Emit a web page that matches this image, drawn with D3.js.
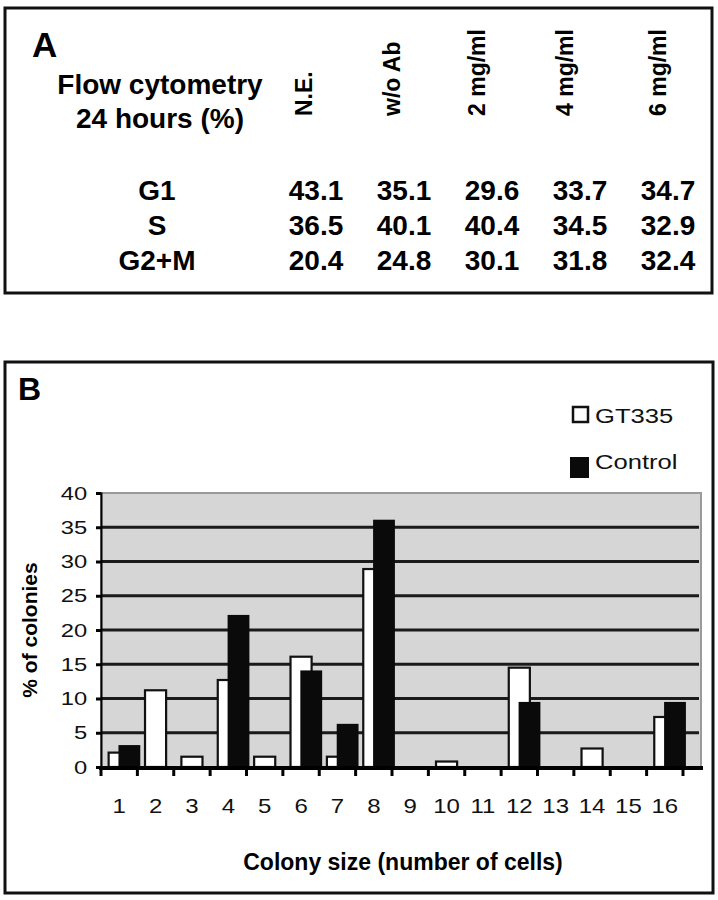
<!DOCTYPE html>
<html>
<head>
<meta charset="utf-8">
<script src="https://cdn.jsdelivr.net/npm/d3@7"></script>
<style>
    body { margin: 0; background: #fff; }
    svg { display: block; font-family: "Liberation Sans", Arial, sans-serif; }
</style>
</head>
<body>
<div id="chart"></div>
<script>
// panel A: flow cytometry table
const conditions = ['N.E.', 'w/o Ab', '2 mg/ml', '4 mg/ml', '6 mg/ml'];
const phases = ['G1', 'S', 'G2+M'];
const g1 = [43.1, 35.1, 29.6, 33.7, 34.7];
const sPhase = [36.5, 40.1, 40.4, 34.5, 32.9];
const g2m = [20.4, 24.8, 30.1, 31.8, 32.4];

// panel B: colony size distribution
const sizes = ['1', '2', '3', '4', '5', '6', '7', '8', '9', '10', '11', '12', '13', '14', '15', '16'];
const gt335 = [2.1, 11.2, 1.5, 12.7, 1.5, 16.1, 1.5, 28.9, 0, 0.8, 0, 14.5, 0, 2.7, 0, 7.3];
const control = [3.2, 0, 0, 22.2, 0, 14.1, 6.3, 36.1, 0, 0, 0, 9.5, 0, 0, 0, 9.5];
const yTicks = [0, 5, 10, 15, 20, 25, 30, 35, 40];

const width = 718, height = 900;
const svg = d3.select('#chart').append('svg')
    .attr('width', width)
    .attr('height', height);

function drawTable() {
    const g = svg.append('g');
    g.append('rect')
        .attr('x', 5).attr('y', 8)
        .attr('width', 707).attr('height', 285)
        .attr('fill', 'none')
        .attr('stroke', '#111')
        .attr('stroke-width', 3);

    g.append('text')
        .attr('x', 32).attr('y', 57)
        .attr('font-size', 35).attr('font-weight', 'bold')
        .text('A');

    g.selectAll('.title')
        .data(['Flow cytometry', '24 hours (%)'])
        .enter().append('text')
        .attr('x', 160)
        .attr('y', (d, i) => 94 + i * 34)
        .attr('text-anchor', 'middle')
        .attr('font-size', 28).attr('font-weight', 'bold')
        .text(d => d);

    const col = d3.scalePoint().domain(conditions).range([316, 668]);
    const row = d3.scalePoint().domain(phases).range([200, 270]);
    const headerShift = [-2, -2, -5, -5, 0];

    g.selectAll('.head')
        .data(conditions)
        .enter().append('text')
        .attr('transform', (d, i) => `translate(${col(d) + headerShift[i] - 2},116) rotate(-90)`)
        .attr('font-size', 23).attr('font-weight', 'bold')
        .text(d => d);

    g.selectAll('.phase')
        .data(phases)
        .enter().append('text')
        .attr('x', 157)
        .attr('y', d => row(d))
        .attr('text-anchor', 'middle')
        .attr('font-size', 28).attr('font-weight', 'bold')
        .text(d => d);

    const rows = [g1, sPhase, g2m];
    rows.forEach((vals, r) => {
        g.selectAll('.v' + r)
            .data(vals)
            .enter().append('text')
            .attr('x', (d, i) => col(conditions[i]))
            .attr('y', row(phases[r]))
            .attr('text-anchor', 'middle')
            .attr('font-size', 28).attr('font-weight', 'bold')
            .text(d => d.toFixed(1));
    });
}

function drawBars() {
    const g = svg.append('g');
    g.append('rect')
        .attr('x', 5).attr('y', 362)
        .attr('width', 708).attr('height', 531)
        .attr('fill', 'none')
        .attr('stroke', '#111')
        .attr('stroke-width', 3);

    g.append('text')
        .attr('x', 18).attr('y', 400)
        .attr('font-size', 32).attr('font-weight', 'bold')
        .text('B');

    const x = d3.scaleBand().domain(sizes).range([101, 683]);
    const y = d3.scaleLinear().domain([0, 40]).range([767, 493]);
    const bw = x.bandwidth();
    const plotRight = 701;

    // plot background
    g.append('rect')
        .attr('x', x.range()[0]).attr('y', y(40))
        .attr('width', plotRight - x.range()[0])
        .attr('height', y(0) - y(40))
        .attr('fill', '#d6d6d6')
        .attr('stroke', '#9a9a9a')
        .attr('stroke-width', 2);

    // gridlines
    g.selectAll('.grid')
        .data(yTicks.filter(t => t > 0 && t < 40))
        .enter().append('line')
        .attr('x1', x.range()[0]).attr('x2', plotRight - 2)
        .attr('y1', d => y(d)).attr('y2', d => y(d))
        .attr('stroke', '#1a1a1a')
        .attr('stroke-width', 3);

    // y axis
    const yAxis = g.append('g')
        .attr('transform', `translate(${x.range()[0]},0)`)
        .call(d3.axisLeft(y).tickValues(yTicks).tickSize(5).tickPadding(6));
    yAxis.select('.domain').attr('stroke', '#000').attr('stroke-width', 2);
    yAxis.selectAll('.tick line').attr('stroke', '#000').attr('stroke-width', 3);
    yAxis.selectAll('.tick text')
        .attr('font-size', 19)
        .attr('font-family', '"Liberation Sans", Arial, sans-serif')
        .attr('fill', '#111')
        .attr('transform', 'scale(1.25,1)');

    // bars: white GT335 behind, black control overlapping on top
    g.selectAll('.gt')
        .data(gt335.map((v, i) => ({size: sizes[i], v})).filter(d => d.v > 0))
        .enter().append('rect')
        .attr('x', d => x(d.size) + bw * 0.21)
        .attr('y', d => y(d.v))
        .attr('width', bw * 0.58)
        .attr('height', d => y(0) - y(d.v))
        .attr('fill', '#fff')
        .attr('stroke', '#111')
        .attr('stroke-width', 2.2);

    g.selectAll('.ctrl')
        .data(control.map((v, i) => ({size: sizes[i], v})).filter(d => d.v > 0))
        .enter().append('rect')
        .attr('x', d => x(d.size) + bw * 0.48)
        .attr('y', d => y(d.v))
        .attr('width', bw * 0.6)
        .attr('height', d => y(0) - y(d.v))
        .attr('fill', '#0a0a0a');

    // x axis line and boundary ticks
    g.append('line')
        .attr('x1', x.range()[0] - 2).attr('x2', plotRight + 2)
        .attr('y1', y(0) + 1).attr('y2', y(0) + 1)
        .attr('stroke', '#000')
        .attr('stroke-width', 4);

    const bounds = sizes.map(s => x(s)).concat([x.range()[1]]);
    g.selectAll('.xtick')
        .data(bounds)
        .enter().append('line')
        .attr('x1', d => d).attr('x2', d => d)
        .attr('y1', y(0)).attr('y2', y(0) + 9)
        .attr('stroke', '#000')
        .attr('stroke-width', 3);

    const xAxis = g.append('g')
        .attr('transform', `translate(0,${y(0)})`)
        .call(d3.axisBottom(x).tickSize(0));
    xAxis.select('.domain').remove();
    xAxis.selectAll('.tick text')
        .attr('y', 46).attr('dy', null)
        .attr('font-size', 20)
        .attr('font-family', '"Liberation Sans", Arial, sans-serif')
        .attr('fill', '#111')
        .attr('transform', 'scale(1.2,1)');

    // axis titles
    g.append('text')
        .attr('transform', `translate(37,${(y(0) + y(40)) / 2}) rotate(-90)`)
        .attr('text-anchor', 'middle')
        .attr('font-size', 21).attr('font-weight', 'bold')
        .text('% of colonies');

    g.append('text')
        .attr('x', 403).attr('y', 870)
        .attr('text-anchor', 'middle')
        .attr('font-size', 23).attr('font-weight', 'bold')
        .text('Colony size (number of cells)');

    // legend
    const legend = g.append('g');
    legend.append('rect')
        .attr('x', 573).attr('y', 407)
        .attr('width', 15).attr('height', 15)
        .attr('fill', '#fff')
        .attr('stroke', '#111')
        .attr('stroke-width', 2.5);
    legend.append('rect')
        .attr('x', 570).attr('y', 457)
        .attr('width', 19).attr('height', 21)
        .attr('fill', '#0a0a0a');
    legend.selectAll('.lab')
        .data(['GT335', 'Control'])
        .enter().append('text')
        .attr('transform', (d, i) => `translate(595,${i ? 469 : 423}) scale(1.28,1)`)
        .attr('font-size', 20)
        .attr('fill', '#111')
        .text(d => d);
}

drawTable();
drawBars();
</script>
</body>
</html>
